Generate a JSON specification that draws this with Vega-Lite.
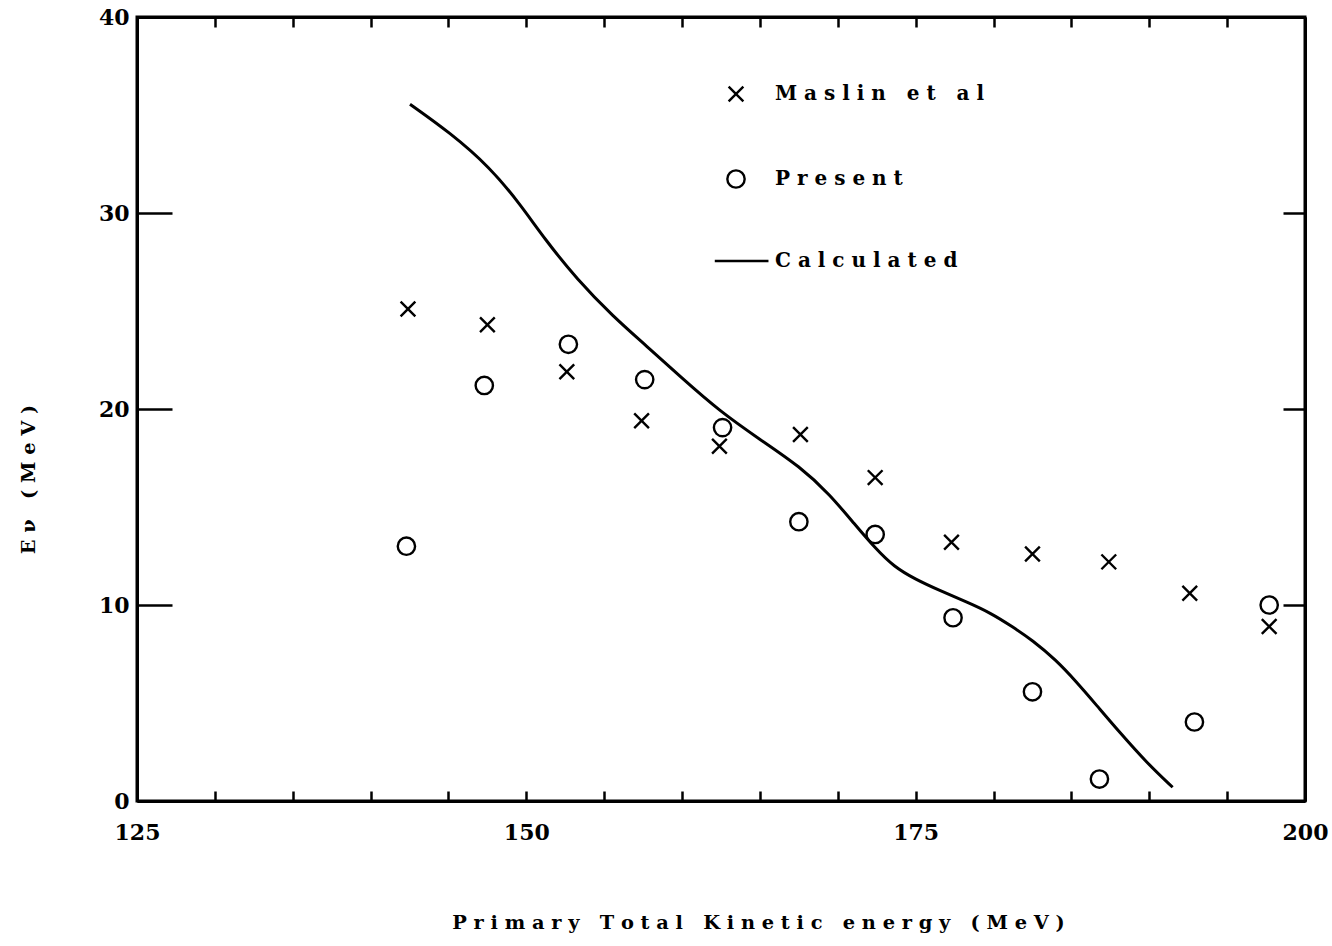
{
  "$schema": "https://vega.github.io/schema/vega-lite/v6.json",
  "width": 1168,
  "height": 784,
  "autosize": {"type": "none"},
  "padding": {"left": 137, "top": 17, "right": 27, "bottom": 145},
  "background": "white",
  "config": {
    "view": {"stroke": "black", "strokeWidth": 3},
    "axis": {
      "domainColor": "black",
      "domainWidth": 3,
      "tickColor": "black",
      "tickWidth": 2.5,
      "grid": false,
      "labelFont": "DejaVu Serif",
      "labelFontWeight": "bold",
      "labelFontSize": 22,
      "labelColor": "black",
      "titleFont": "DejaVu Serif",
      "titleFontWeight": "bold",
      "titleFontSize": 19.4,
      "titleColor": "black"
    }
  },
  "data": {
    "values": [
      {"series": "Maslin et al", "energy": 142.4, "ev": 25.1},
      {"series": "Maslin et al", "energy": 147.5, "ev": 24.3},
      {"series": "Maslin et al", "energy": 152.6, "ev": 21.9},
      {"series": "Maslin et al", "energy": 157.4, "ev": 19.4},
      {"series": "Maslin et al", "energy": 162.4, "ev": 18.1},
      {"series": "Maslin et al", "energy": 167.6, "ev": 18.7},
      {"series": "Maslin et al", "energy": 172.4, "ev": 16.5},
      {"series": "Maslin et al", "energy": 177.3, "ev": 13.2},
      {"series": "Maslin et al", "energy": 182.5, "ev": 12.6},
      {"series": "Maslin et al", "energy": 187.4, "ev": 12.2},
      {"series": "Maslin et al", "energy": 192.6, "ev": 10.6},
      {"series": "Maslin et al", "energy": 197.7, "ev": 8.9},
      {"series": "Present", "energy": 142.3, "ev": 13.0},
      {"series": "Present", "energy": 147.3, "ev": 21.2},
      {"series": "Present", "energy": 152.7, "ev": 23.3},
      {"series": "Present", "energy": 157.6, "ev": 21.5},
      {"series": "Present", "energy": 162.6, "ev": 19.05},
      {"series": "Present", "energy": 167.5, "ev": 14.25},
      {"series": "Present", "energy": 172.4, "ev": 13.6},
      {"series": "Present", "energy": 177.4, "ev": 9.35},
      {"series": "Present", "energy": 182.5, "ev": 5.57},
      {"series": "Present", "energy": 186.8, "ev": 1.12},
      {"series": "Present", "energy": 192.9, "ev": 4.03},
      {"series": "Present", "energy": 197.7, "ev": 10.0},
      {"series": "Calculated", "energy": 142.53, "ev": 35.55},
      {"series": "Calculated", "energy": 145.1, "ev": 34.1},
      {"series": "Calculated", "energy": 147.67, "ev": 32.33},
      {"series": "Calculated", "energy": 149.6, "ev": 30.45},
      {"series": "Calculated", "energy": 151.2, "ev": 28.65},
      {"series": "Calculated", "energy": 153.26, "ev": 26.61},
      {"series": "Calculated", "energy": 155.57, "ev": 24.72},
      {"series": "Calculated", "energy": 157.76, "ev": 23.19},
      {"series": "Calculated", "energy": 159.88, "ev": 21.65},
      {"series": "Calculated", "energy": 162.44, "ev": 19.87},
      {"series": "Calculated", "energy": 165.01, "ev": 18.44},
      {"series": "Calculated", "energy": 167.58, "ev": 17.06},
      {"series": "Calculated", "energy": 169.5, "ev": 15.63},
      {"series": "Calculated", "energy": 171.1, "ev": 14.1},
      {"series": "Calculated", "energy": 172.4, "ev": 12.9},
      {"series": "Calculated", "energy": 173.6, "ev": 11.95},
      {"series": "Calculated", "energy": 175.0, "ev": 11.3},
      {"series": "Calculated", "energy": 176.5, "ev": 10.75},
      {"series": "Calculated", "energy": 178.3, "ev": 10.15},
      {"series": "Calculated", "energy": 179.8, "ev": 9.6},
      {"series": "Calculated", "energy": 181.2, "ev": 8.9},
      {"series": "Calculated", "energy": 182.5, "ev": 8.2},
      {"series": "Calculated", "energy": 184.0, "ev": 7.2},
      {"series": "Calculated", "energy": 185.3, "ev": 6.1},
      {"series": "Calculated", "energy": 186.6, "ev": 4.9},
      {"series": "Calculated", "energy": 188.1, "ev": 3.5},
      {"series": "Calculated", "energy": 189.9, "ev": 1.9},
      {"series": "Calculated", "energy": 191.5, "ev": 0.7}
    ]
  },
  "layer": [
    {
      "transform": [{"filter": "datum.series !== 'Calculated'"}],
      "mark": {"type": "point", "filled": false, "strokeWidth": 2.4, "size": 300, "color": "black", "opacity": 1},
      "encoding": {
        "x": {
          "field": "energy", "type": "quantitative",
          "scale": {"domain": [125, 200], "nice": false, "zero": false},
          "axis": {
            "orient": "bottom",
            "values": [125, 130, 135, 140, 145, 150, 155, 160, 165, 170, 175, 180, 185, 190, 195, 200],
            "tickSize": -10,
            "labelPadding": 31,
            "labelBaseline": "top",
            "labelExpr": "datum.value % 25 === 0 ? datum.label : ''",
            "labelFlush": false,
            "labelOverlap": false,
            "title": "P r i m a r y\u00a0 \u00a0T o t a l\u00a0 \u00a0K i n e t i c\u00a0 \u00a0e n e r g y\u00a0 \u00a0( M e V )",
            "titleX": 621,
            "titleY": 121,
            "titleAlign": "center",
            "titleBaseline": "middle"
          }
        },
        "y": {
          "field": "ev", "type": "quantitative",
          "scale": {"domain": [0, 40], "nice": false, "zero": true},
          "axis": {
            "orient": "left",
            "values": [0, 10, 20, 30, 40],
            "tickSize": -35,
            "labelPadding": 43,
            "labelFlush": false,
            "labelOverlap": false,
            "title": "E ν\u00a0 \u00a0( M e V )",
            "titleX": -109,
            "titleY": 462,
            "titleAngle": -90,
            "titleAlign": "center",
            "titleBaseline": "middle"
          }
        },
        "shape": {
          "field": "series", "type": "nominal",
          "scale": {
            "domain": ["Maslin et al", "Present", "Calculated"],
            "range": ["M-0.85,-0.85L0.85,0.85M0.85,-0.85L-0.85,0.85", "circle", "M-2.45,0L3.75,0"]
          },
          "legend": {
            "title": null,
            "orient": "none",
            "legendX": 589,
            "legendY": 67,
            "direction": "vertical",
            "symbolSize": 300,
            "symbolStrokeWidth": 2.4,
            "symbolStrokeColor": "black",
            "symbolFillColor": "transparent",
            "rowPadding": 58,
            "labelOffset": 29,
            "labelFont": "DejaVu Serif",
            "labelFontWeight": "bold",
            "labelFontSize": 20,
            "labelColor": "black",
            "labelLimit": 400,
            "labelExpr": "replace(replace(datum.label, regexp(' ','g'), '\u00a0'), regexp('([^ ])(?=.)','g'), '$1 ')",
            "encode": {
              "symbols": {
                "update": {
                  "stroke": {"value": "black"},
                  "fill": {"value": "transparent"},
                  "strokeWidth": {"value": 2.4},
                  "opacity": {"value": 1}
                }
              }
            }
          }
        }
      }
    },
    {
      "transform": [{"filter": "datum.series === 'Calculated'"}],
      "mark": {"type": "line", "color": "black", "strokeWidth": 3, "interpolate": "basis"},
      "encoding": {
        "x": {
          "field": "energy", "type": "quantitative",
          "axis": {
            "orient": "top",
            "values": [125, 130, 135, 140, 145, 150, 155, 160, 165, 170, 175, 180, 185, 190, 195, 200],
            "tickSize": -10,
            "labels": false,
            "title": null
          }
        },
        "y": {
          "field": "ev", "type": "quantitative",
          "axis": {
            "orient": "right",
            "values": [10, 20, 30],
            "tickSize": -22,
            "labels": false,
            "title": null
          }
        }
      }
    }
  ],
  "resolve": {"axis": {"x": "independent", "y": "independent"}}
}
